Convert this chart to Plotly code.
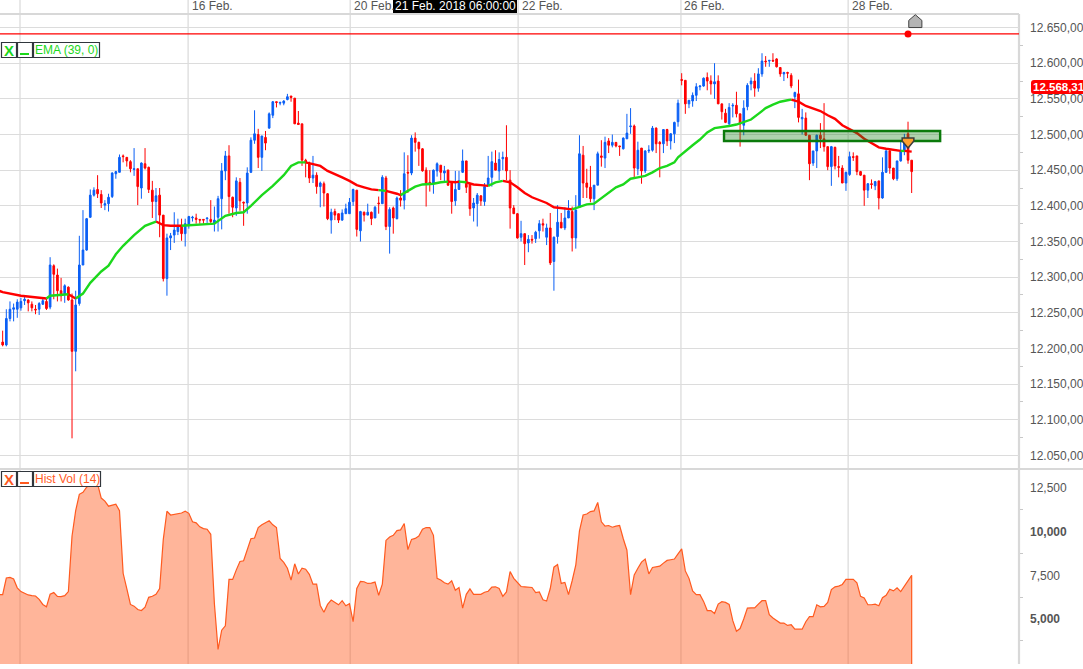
import plotly.graph_objects as go

W, H = 1083, 669
FONT = "Liberation Sans"

opens = [12209,12205,12242,12255,12255,12257,12267,12268,12262,12255,
12255,12262,12266,12258,12316,12303,12281,12276,12286,12268,
12196,12263,12317,12338,12384,12415,12423,12416,12401,12403,
12413,12445,12447,12470,12468,12462,12451,12452,12425,12459,
12454,12422,12406,12415,12387,12298,12355,12359,12364,12373,
12361,12373,12383,12383,12381,12381,12382,12381,12376,12384,
12410,12449,12470,12412,12397,12433,12405,12404,12447,12492,
12500,12468,12496,12509,12527,12546,12544,12544,12549,12554,
12551,12516,12515,12464,12460,12439,12443,12427,12431,12417,
12380,12392,12389,12380,12389,12389,12406,12422,12365,12391,
12387,12391,12383,12404,12403,12439,12371,12397,12382,12411,
12408,12447,12446,12495,12489,12480,12450,12433,12432,12449,
12457,12446,12450,12432,12407,12423,12447,12463,12431,12397,
12403,12414,12406,12429,12440,12460,12449,12466,12468,12436,
12397,12389,12356,12361,12348,12353,12354,12365,12375,12356,
12369,12322,12357,12377,12369,12383,12392,12355,12398,12471,
12432,12426,12410,12429,12470,12467,12491,12485,12489,12484,
12480,12494,12511,12512,12452,12481,12449,12477,12478,12509,
12489,12487,12507,12491,12501,12518,12577,12576,12543,12547,
12555,12567,12568,12580,12575,12571,12575,12543,12530,12515,
12540,12541,12529,12513,12539,12571,12575,12565,12585,12603,
12603,12604,12606,12594,12585,12587,12583,12553,12557,12522,
12523,12499,12460,12477,12499,12494,12483,12455,12482,12455,
12453,12432,12444,12469,12470,12448,12443,12422,12431,12428,
12435,12411,12447,12477,12453,12438,12463,12477,12501,12464]

highs = [12225,12255,12266,12263,12269,12271,12273,12269,12266,12261,
12265,12270,12270,12328,12318,12312,12299,12290,12287,12277,
12281,12358,12394,12383,12423,12426,12443,12422,12408,12417,
12447,12449,12472,12472,12468,12464,12481,12452,12461,12481,
12455,12435,12425,12425,12387,12361,12362,12391,12382,12382,
12382,12386,12386,12389,12381,12381,12383,12408,12399,12414,
12460,12477,12485,12413,12440,12439,12406,12454,12496,12534,
12508,12498,12505,12531,12547,12546,12546,12548,12557,12554,
12551,12533,12515,12466,12462,12470,12447,12434,12434,12418,
12396,12396,12389,12395,12403,12411,12424,12422,12393,12392,
12403,12392,12400,12413,12443,12442,12398,12399,12413,12422,
12475,12471,12499,12503,12490,12481,12454,12450,12451,12461,
12457,12456,12451,12432,12449,12449,12479,12463,12432,12411,
12418,12415,12432,12470,12476,12478,12475,12476,12513,12450,
12401,12390,12379,12361,12359,12359,12365,12380,12382,12375,
12390,12357,12401,12390,12398,12408,12399,12415,12499,12484,
12452,12456,12429,12476,12492,12497,12495,12500,12489,12484,
12496,12529,12537,12514,12490,12481,12478,12485,12512,12510,
12491,12507,12508,12502,12518,12549,12586,12576,12548,12559,
12572,12569,12580,12587,12583,12600,12583,12543,12536,12544,
12544,12560,12529,12548,12572,12580,12586,12593,12614,12610,
12604,12614,12607,12594,12588,12588,12586,12560,12577,12536,
12531,12499,12477,12500,12516,12544,12483,12484,12483,12470,
12457,12448,12476,12475,12470,12449,12443,12432,12437,12435,
12435,12468,12478,12478,12453,12463,12491,12501,12518,12464]

lows = [12203,12203,12238,12238,12243,12253,12261,12252,12252,12248,
12247,12261,12254,12255,12269,12266,12266,12264,12267,12074,
12168,12260,12317,12337,12383,12413,12411,12397,12394,12392,
12411,12438,12447,12461,12455,12447,12442,12401,12410,12451,
12418,12383,12378,12356,12294,12274,12338,12348,12359,12351,
12343,12368,12378,12375,12375,12375,12376,12375,12364,12364,
12367,12436,12389,12384,12386,12393,12372,12389,12446,12487,
12453,12449,12478,12508,12523,12538,12541,12541,12548,12546,
12515,12514,12456,12440,12432,12432,12417,12398,12399,12380,
12361,12380,12376,12379,12389,12389,12400,12357,12350,12378,
12387,12373,12383,12389,12403,12366,12333,12361,12381,12399,
12395,12418,12443,12476,12456,12448,12399,12420,12417,12441,
12436,12434,12428,12389,12400,12423,12446,12418,12386,12378,
12371,12400,12400,12427,12427,12450,12436,12450,12436,12368,
12389,12354,12350,12317,12335,12347,12348,12354,12364,12345,
12317,12281,12347,12369,12366,12383,12336,12340,12397,12411,
12411,12405,12394,12429,12455,12453,12474,12482,12482,12470,
12479,12494,12501,12440,12443,12431,12446,12474,12476,12474,
12440,12474,12484,12479,12488,12511,12569,12529,12537,12539,
12547,12562,12567,12562,12556,12550,12543,12521,12516,12512,
12524,12524,12483,12499,12534,12562,12553,12560,12581,12595,
12595,12602,12594,12581,12575,12579,12565,12537,12517,12500,
12498,12436,12456,12453,12481,12476,12450,12428,12451,12440,
12432,12421,12442,12463,12443,12442,12400,12411,12424,12422,
12395,12410,12446,12445,12436,12435,12462,12471,12459,12418]

closes = [12205,12242,12255,12257,12265,12266,12269,12264,12257,12254,
12263,12267,12256,12317,12304,12281,12274,12288,12268,12196,
12261,12317,12338,12382,12415,12422,12417,12404,12403,12412,
12446,12448,12468,12469,12463,12452,12452,12427,12460,12453,
12423,12406,12414,12387,12298,12355,12358,12366,12372,12361,
12375,12385,12384,12381,12380,12380,12383,12378,12380,12410,
12449,12470,12413,12398,12435,12407,12404,12446,12492,12501,
12468,12498,12488,12529,12546,12545,12545,12547,12553,12552,
12515,12514,12464,12460,12439,12443,12427,12432,12418,12382,
12391,12387,12380,12390,12396,12405,12423,12367,12392,12387,
12391,12382,12398,12403,12440,12371,12395,12383,12411,12408,
12445,12446,12495,12489,12480,12449,12432,12432,12450,12459,
12447,12449,12429,12406,12423,12435,12463,12426,12396,12404,
12415,12407,12427,12439,12462,12450,12465,12468,12449,12397,
12389,12355,12361,12347,12353,12352,12363,12375,12373,12369,
12320,12356,12377,12369,12383,12393,12355,12394,12473,12432,
12426,12410,12429,12473,12468,12489,12485,12489,12484,12483,
12495,12502,12512,12453,12478,12449,12477,12478,12509,12487,
12487,12507,12491,12501,12517,12544,12576,12543,12548,12555,
12567,12568,12579,12575,12571,12574,12543,12532,12517,12538,
12541,12529,12515,12537,12569,12575,12565,12585,12603,12602,
12604,12603,12595,12585,12587,12586,12568,12559,12524,12524,
12499,12459,12477,12499,12494,12483,12455,12483,12456,12454,
12432,12447,12469,12468,12448,12443,12422,12431,12430,12434,
12411,12447,12477,12453,12438,12463,12476,12495,12464,12448]

ema_bars = [-1,0,5,10,12,13,18,20,22,24,27,29,31,33,36,39,42,44,46,49,52,56,58,61,64,66,68,71,74,77,79,81,83,
85,87,89,91,93,95,97,99,101,103,105,106,108,109,111,113,115,118,120,122,124,125,127,129,131,133,135,137,
139,141,143,145,147,149,151,153,155,156,158,160,162,164,166,168,170,172,174,176,178,180,182,184,185,
187,189,191,193,195,197,199,201,203,205,207,209,211,213,215,216,218,220,222,224,226,228,230,232,234,
236,238,240,242,244,246,247,249]
ema_values = [12281,12279,12274,12271,12270,12274,12276,12270,12277,12292,12308,12316,12332,12344,12359,12372,12378,12373,12372,12372,12373,12374,12375,12386,12390,12391,12400,12415,12428,12443,12456,12461,12461,
12459,12456,12449,12445,12440,12435,12429,12426,12423,12422,12421,12420,12417,12415,12421,12427,12430,12431,12433,12434,12433,12434,12433,12430,12429,12428,12433,12435,
12433,12426,12418,12412,12408,12404,12398,12397,12396,12395,12398,12402,12403,12411,12419,12426,12430,12438,12440,12442,12447,12453,12456,12461,12468,
12477,12485,12493,12503,12509,12510,12512,12514,12517,12521,12529,12537,12542,12546,12548,12549,12546,12540,12537,12533,12527,12522,12513,12507,12502,
12494,12488,12482,12480,12478,12477,12477,12476]
ema_switch_bars = [12,18,20,42,49,83,103,105,109,122,125,127,133,137,156,216,246,247]

hist_bars = [-1] + list(range(250))
hist_vol = [6395,6395,7344,7383,7286,6783,6569,6453,6376,6337,6317,
6124,5833,5697,6414,6511,6298,6279,6337,6569,9748,
11201,12131,12248,12538,12732,12732,12732,11918,11744,11453,
11511,11569,11201,7616,6744,5833,5736,5542,5484,5678,
6240,6298,6414,6744,9554,11162,10949,10988,11027,11065,
11162,11046,10562,10503,10271,10174,10135,9844,5872,3255,
4360,4612,7267,7267,7810,8294,8333,9011,9593,9631,
10232,10387,10503,10620,10387,10232,8468,8236,7906,7228,
8158,7577,7906,7848,7558,6996,6996,5775,5387,5833,
6085,5949,5813,6046,5755,5872,4844,6744,7151,7131,
7034,7054,7112,6356,6996,9496,9689,9787,10058,10097,
10465,8972,9554,9612,9748,10135,10232,10232,9786,7325,
7228,7073,6996,7189,6647,6802,5620,6414,6724,6414,
6414,6414,6531,6589,6821,6841,6744,6298,6550,7713,
7325,7112,6860,6841,6821,6802,6511,6550,6104,6027,
6744,7965,8120,7034,7092,6395,7189,8100,10038,10949,
11007,11143,11182,11666,10562,10310,10348,10251,10310,10348,
9593,8934,6395,7519,7906,8256,8430,7577,7945,8003,
8023,8197,8352,8391,8430,8720,9011,7751,7325,6608,
6395,6395,6007,5484,5484,5310,5852,5988,5949,5833,
4903,4302,4457,5000,5620,5639,5639,5852,6046,6046,
5251,5058,4903,4767,4767,4631,4670,4418,4418,4418,
4845,5135,5135,5814,5697,5717,5949,6685,6841,6879,
6976,7267,7267,7267,7073,6298,6201,5814,5814,5852,
5755,6220,6356,6705,6608,6783,6569,6879,7189,7499]

date_grid_bars = [4.75, 50.8, 95.2, 141.2, 185.8, 231.6]
date_labels = ["", "16 Feb.", "20 Feb.", "22 Feb.", "26 Feb.", "28 Feb."]
crosshair_label = "21 Feb. 2018 06:00:00"

price_ticks = [12050,12100,12150,12200,12250,12300,12350,12400,12450,12500,12550,12600,12650]
price_tick_text = ["12.050,00","12.100,00","12.150,00","12.200,00","12.250,00","12.300,00","12.350,00",
                   "12.400,00","12.450,00","12.500,00","12.550,00","12.600,00","12.650,00"]
price_minor = [12075,12125,12175,12225,12275,12325,12375,12425,12475,12525,12575,12625]
vol_ticks = [5000,7500,10000,12500]
vol_tick_text = ["<b>5,000</b>","7,500","<b>10,000</b>","12,500"]
vol_minor = [3750,6250,8750,11250]

last_price_text = "12.568,31"
alert_level = 12641
alert_bar = 248
zone_bars = [197.6, 256.8]
zone_prices = [12491, 12505]

BLUE, RED, GREEN = "#0A5FF5", "#FF0000", "#1CD81C"
ORANGE = "#FF5A1F"
GRID = "#DCDCDC"
AXIS = "#D8D8D8"
TXT = "#555555"

def px(x): return x / W
def py(y): return 1 - y / H

bars = list(range(len(opens)))
fig = go.Figure()

fig.add_trace(go.Candlestick(
    x=bars, open=opens, high=highs, low=lows, close=closes,
    increasing=dict(line=dict(color=BLUE, width=1), fillcolor=BLUE),
    decreasing=dict(line=dict(color=RED, width=1), fillcolor=RED),
    whiskerwidth=0, hoverinfo="skip", xaxis="x", yaxis="y"))

# EMA, coloured run by run
runs = [ema_bars[0]] + ema_switch_bars + [ema_bars[-1]]
segments = {RED: ([], []), GREEN: ([], [])}
for k in range(len(runs) - 1):
    col = RED if k % 2 == 0 else GREEN
    for b, v in zip(ema_bars, ema_values):
        if runs[k] <= b <= runs[k + 1]:
            segments[col][0].append(b)
            segments[col][1].append(v)
    segments[col][0].append(None)
    segments[col][1].append(None)
for col, (xs, ys) in segments.items():
    fig.add_trace(go.Scatter(x=xs, y=ys, mode="lines", line=dict(color=col, width=2.4),
                             hoverinfo="skip", xaxis="x", yaxis="y"))

fig.add_trace(go.Scatter(x=[alert_bar], y=[alert_level], mode="markers",
                         marker=dict(color=RED, size=7), hoverinfo="skip", xaxis="x", yaxis="y"))

# Hist Vol
VOL_MIN, VOL_MAX = 2426, 13581
fig.add_trace(go.Scatter(x=hist_bars, y=hist_vol, mode="lines", fill="tozeroy",
                         fillcolor="rgba(255,90,30,0.45)", line=dict(color=ORANGE, width=1.2),
                         hoverinfo="skip", xaxis="x2", yaxis="y2"))
fig.add_trace(go.Scatter(x=[hist_bars[-1], hist_bars[-1]], y=[hist_vol[-1], VOL_MIN], mode="lines",
                         line=dict(color=ORANGE, width=1.2), hoverinfo="skip", xaxis="x2", yaxis="y2"))

shapes = []
for b in date_grid_bars:
    shapes.append(dict(type="line", xref="x", yref="paper", x0=b, x1=b, y0=py(664), y1=1,
                       line=dict(color=GRID, width=1.3), layer="below"))
shapes += [
    dict(type="line", xref="paper", yref="paper", x0=0, x1=px(1019), y0=py(14), y1=py(14),
         line=dict(color=AXIS, width=2.2), layer="below"),
    dict(type="line", xref="paper", yref="paper", x0=0, x1=1, y0=py(469), y1=py(469),
         line=dict(color=AXIS, width=2.2), layer="below"),
    dict(type="line", xref="paper", yref="paper", x0=px(1019), x1=px(1019), y0=py(664), y1=py(14),
         line=dict(color=AXIS, width=2.2), layer="below"),
    dict(type="line", xref="paper", yref="y", x0=0, x1=px(1019), y0=alert_level, y1=alert_level,
         line=dict(color=RED, width=1.2)),
    dict(type="rect", xref="x", yref="y", x0=zone_bars[0], x1=zone_bars[1], y0=zone_prices[0], y1=zone_prices[1],
         fillcolor="rgba(30,130,30,0.36)", line=dict(color="#0B7A0B", width=2.4)),
    dict(type="path", xref="x", yref="y",
         path="M 248.2,12650 L 248.2,12660 L 250,12668 L 251.8,12660 L 251.8,12650 Z",
         fillcolor="#B4B4B4", line=dict(color="#404040", width=1)),
    # signal marker
    dict(type="path", xref="x", yref="y",
         path="M 246.4,12495 L 249.6,12495 L 249.6,12491 L 248,12481 L 246.4,12491 Z",
         fillcolor="#FFA030", line=dict(color="#3C3C3C", width=1.5)),
    # price tag
    dict(type="path", xref="paper", yref="paper",
         path=f"M {px(1034)},{py(80)} L {px(1084)},{py(80)} L {px(1084)},{py(94)} L {px(1034)},{py(94)} "
              f"Q {px(1031)},{py(94)} {px(1031)},{py(91)} L {px(1031)},{py(83)} Q {px(1031)},{py(80)} {px(1034)},{py(80)} Z",
         fillcolor=RED, line=dict(width=0)),
    # crosshair label
    dict(type="rect", xref="paper", yref="paper", x0=px(393), x1=px(517), y0=py(13), y1=1,
         fillcolor="#000000", line=dict(width=0)),
]

annotations = []
for b, t in zip(date_grid_bars, date_labels):
    if t:
        annotations.append(dict(xref="x", yref="paper", x=b, y=py(6.5), text=t, showarrow=False, xanchor="left",
                                xshift=1.5, yanchor="middle", font=dict(family=FONT, size=12, color=TXT)))
annotations.append(dict(xref="paper", yref="paper", x=px(455), y=py(6.5), text=crosshair_label, showarrow=False,
                        xanchor="center", yanchor="middle", font=dict(family=FONT, size=12, color="#FFFFFF")))
annotations.append(dict(xref="paper", yref="paper", x=px(1030.5), y=py(87), text=f"<b>{last_price_text}</b>",
                        showarrow=False, xanchor="left", yanchor="middle",
                        font=dict(family=FONT, size=11.5, color="#FFFFFF")))

def legend_row(top, label, color, end):
    for x0, x1 in [(1, 16), (17, 32), (33, end)]:
        shapes.append(dict(type="rect", xref="paper", yref="paper", x0=px(x0 + 0.5), x1=px(x1 + 0.5),
                           y0=py(top + 15.5), y1=py(top + 0.5), fillcolor="#FFFFFF",
                           line=dict(color="#30363C", width=1.2)))
    shapes.append(dict(type="rect", xref="paper", yref="paper", x0=px(20), x1=px(29),
                       y0=py(top + 13), y1=py(top + 11), fillcolor=color, line=dict(width=0)))
    annotations.append(dict(xref="paper", yref="paper", x=px(9), y=py(top + 8), text="<b>X</b>", showarrow=False,
                            xanchor="center", yanchor="middle", font=dict(family=FONT, size=15, color=color)))
    annotations.append(dict(xref="paper", yref="paper", x=px(33), y=py(top + 8), text=label, showarrow=False,
                            xanchor="left", yanchor="middle", font=dict(family=FONT, size=12, color=color)))

legend_row(42, "EMA (39, 0)", GREEN, 99)
legend_row(471, "Hist Vol (14)", ORANGE, 100)

x_range = [-0.73, 278.4]
xa = dict(domain=[0, px(1019)], range=x_range, showgrid=False, showticklabels=False, showline=False,
          zeroline=False, ticks="", rangeslider=dict(visible=False), fixedrange=True)
ya_common = dict(side="right", showline=False, zeroline=False, ticks="", ticklabelstandoff=10,
                 tickfont=dict(family=FONT, size=12, color=TXT), tickmode="array", fixedrange=True)

fig.update_layout(
    width=W, height=H, margin=dict(l=0, r=0, t=0, b=0, autoexpand=False),
    paper_bgcolor="white", plot_bgcolor="white", showlegend=False, boxgap=0.35,
    xaxis=dict(**xa, anchor="y"),
    xaxis2=dict(**{k: v for k, v in xa.items() if k != "rangeslider"}, anchor="y2"),
    yaxis=dict(**ya_common, domain=[py(469), py(14)], range=[12031, 12669], anchor="x",
               tickvals=price_ticks, ticktext=price_tick_text, showgrid=True, gridcolor=GRID, gridwidth=1.3,
               minor=dict(tickmode="array", tickvals=price_minor, ticks="outside", ticklen=3,
                          tickcolor="#C8C8C8", showgrid=False)),
    yaxis2=dict(**ya_common, domain=[py(664), py(469)], range=[VOL_MIN, VOL_MAX], anchor="x2",
                tickvals=vol_ticks, ticktext=vol_tick_text, showgrid=False,
                minor=dict(tickmode="array", tickvals=vol_minor, ticks="outside", ticklen=3,
                           tickcolor="#C8C8C8", showgrid=False)),
    shapes=shapes, annotations=annotations,
)

fig.write_html("out.html", config={"displayModeBar": False},
               post_script="document.body.style.margin='0';document.body.style.overflow='hidden';")
